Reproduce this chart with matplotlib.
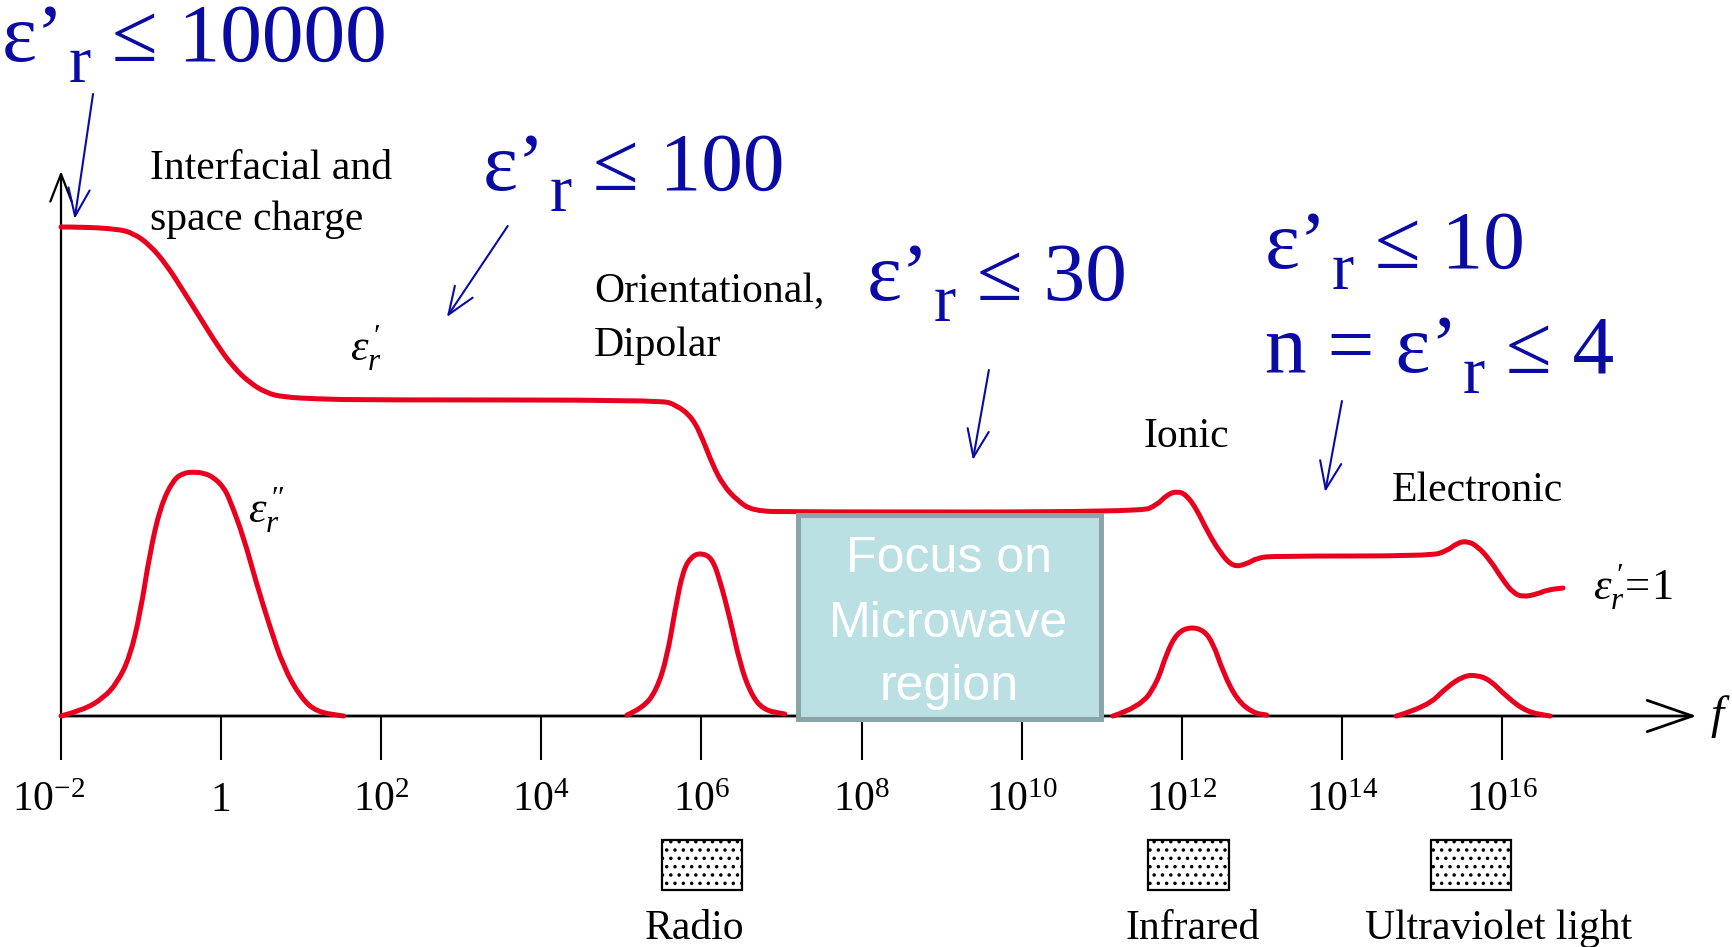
import matplotlib
matplotlib.use("Agg")
import matplotlib.pyplot as plt
from matplotlib.patches import Rectangle, PathPatch
from matplotlib.path import Path

plt.rcParams["mathtext.fontset"] = "custom"
plt.rcParams["mathtext.rm"] = "Liberation Serif"
plt.rcParams["mathtext.it"] = "Liberation Serif:italic"
plt.rcParams["mathtext.bf"] = "Liberation Serif:bold"
plt.rcParams["hatch.linewidth"] = 1.3

# ---- frequency axis (log10 f) ----
tick_logf = [-2, 0, 2, 4, 6, 8, 10, 12, 14, 16]
tick_labels = [r"$10^{-2}$", "1", r"$10^{2}$", r"$10^{4}$", r"$10^{6}$",
               r"$10^{8}$", r"$10^{10}$", r"$10^{12}$", r"$10^{14}$", r"$10^{16}$"]

# ---- real part of relative permittivity, eps'_r (schematic units) ----
eps_real_logf = [-2.0, -1.73, -1.30, -1.10, -0.89, -0.68, -0.48, -0.26, -0.05, 0.15,
                 0.36, 0.57, 0.77, 1.20, 1.82, 5.48, 5.69, 5.89, 6.02, 6.14,
                 6.27, 6.44, 6.64, 7.14, 11.48, 11.69, 11.81, 11.94, 12.06, 12.19,
                 12.31, 12.48, 12.64, 12.81, 12.94, 13.14, 15.10, 15.31, 15.44, 15.56,
                 15.69, 15.85, 16.01, 16.14, 16.26, 16.44, 16.56, 16.76]
eps_real_val = [4.89, 4.89, 4.87, 4.83, 4.71, 4.51, 4.26, 3.98, 3.71, 3.49,
                3.33, 3.23, 3.19, 3.17, 3.16, 3.16, 3.11, 2.98, 2.76, 2.51,
                2.31, 2.16, 2.05, 2.04, 2.04, 2.11, 2.21, 2.25, 2.21, 2.06,
                1.86, 1.63, 1.49, 1.52, 1.58, 1.60, 1.60, 1.65, 1.73, 1.75,
                1.70, 1.56, 1.36, 1.23, 1.19, 1.22, 1.26, 1.28]

# ---- loss peaks, eps''_r ----
loss_space_logf = [-2.0, -1.72, -1.47, -1.30, -1.14, -1.01, -0.89, -0.76, -0.60, -0.47,
                   -0.35, -0.22, -0.10, 0.03, 0.11, 0.28, 0.44, 0.61, 0.78, 0.99, 1.19, 1.53]
loss_space_val = [0.0, 0.06, 0.18, 0.33, 0.59, 1.03, 1.63, 2.09, 2.36, 2.43,
                  2.44, 2.43, 2.39, 2.29, 2.16, 1.79, 1.33, 0.89, 0.49, 0.19, 0.04, 0.0]

loss_dipolar_logf = [5.07, 5.27, 5.44, 5.57, 5.67, 5.77, 5.88, 6.00, 6.13, 6.23,
                     6.36, 6.48, 6.61, 6.77, 7.04]
loss_dipolar_val = [0.01, 0.08, 0.26, 0.59, 1.06, 1.46, 1.60, 1.63, 1.58, 1.36,
                    0.96, 0.53, 0.23, 0.06, 0.02]

loss_ionic_logf = [11.14, 11.48, 11.69, 11.81, 11.94, 12.10, 12.27, 12.39, 12.52, 12.69,
                   12.89, 13.06]
loss_ionic_val = [0.0, 0.09, 0.33, 0.63, 0.83, 0.89, 0.86, 0.73, 0.43, 0.16, 0.03, 0.01]

loss_electronic_logf = [14.68, 15.06, 15.31, 15.52, 15.68, 15.85, 16.06, 16.31, 16.60]
loss_electronic_val = [0.0, 0.09, 0.29, 0.40, 0.41, 0.36, 0.19, 0.04, 0.0]

# ---- spectral bands under the axis ----
band_names = ["Radio", "Infrared", "Ultraviolet light"]
band_left = [5.51, 11.58, 15.11]
band_right = [6.51, 12.59, 16.11]
band_label_x = [5.91, 12.13, 15.96]

RED = "#e8001e"
BLUE = "#0a0aa5"
SERIF = "Liberation Serif"

fig = plt.figure(figsize=(17.32, 9.47), dpi=100)
ax = fig.add_axes([0, 0, 1, 1])
ax.set_xlim(-2.762, 18.872)
ax.set_ylim(-2.31, 7.16)
ax.axis("off")

# axes with arrow heads
ax.annotate("", xy=(18.43, 0), xytext=(-2.0, 0),
            arrowprops=dict(arrowstyle="->,head_length=1.3,head_width=0.45",
                            lw=2, color="black", shrinkA=0, shrinkB=0,
                            mutation_scale=25), zorder=1)
ax.annotate("", xy=(-2.0, 5.45), xytext=(-2.0, 0),
            arrowprops=dict(arrowstyle="->,head_length=0.9,head_width=0.35",
                            lw=1.6, color="black", shrinkA=0, shrinkB=0,
                            mutation_scale=22), zorder=1)
ax.vlines(tick_logf, -0.44, 0, color="black", lw=1.5, zorder=1)
for t, lab in zip(tick_logf, tick_labels):
    tx = t if t != -2 else -2.16
    ax.text(tx, -0.85, lab, ha="center", va="center", fontsize=30,
            family=SERIF, color="black")
ax.text(18.72, 0.0, r"$f$", ha="center", va="center", fontsize=34, color="black")


def smooth_curve(xs, ys):
    """Quadratic Bezier through the midpoints, with the samples as control points."""
    verts = [(xs[0], ys[0])]
    codes = [Path.MOVETO]
    for i in range(1, len(xs) - 1):
        verts += [(xs[i], ys[i]), ((xs[i] + xs[i + 1]) / 2, (ys[i] + ys[i + 1]) / 2)]
        codes += [Path.CURVE3, Path.CURVE3]
    verts.append((xs[-1], ys[-1]))
    codes.append(Path.LINETO)
    return PathPatch(Path(verts, codes), facecolor="none", edgecolor=RED, lw=3.6,
                     capstyle="round", joinstyle="round", zorder=2)


for xs, ys in [(eps_real_logf, eps_real_val),
               (loss_space_logf, loss_space_val),
               (loss_dipolar_logf, loss_dipolar_val),
               (loss_ionic_logf, loss_ionic_val),
               (loss_electronic_logf, loss_electronic_val)]:
    ax.add_patch(smooth_curve(xs, ys))

# microwave window
ax.add_patch(Rectangle((7.20, -0.025), 10.99 - 7.20, 2.015 + 0.025,
                       facecolor="#bbe0e3", edgecolor="#8aa5a8", lw=3.6, zorder=3))
for y, s in [(1.44, "Focus on"), (0.79, "Microwave"), (0.16, "region")]:
    ax.text(9.09, y, s, ha="center", va="baseline", fontsize=36,
            family="Liberation Sans", color="white", zorder=4)

# spectral bands
for name, l, r, lx in zip(band_names, band_left, band_right, band_label_x):
    ax.add_patch(Rectangle((l, -1.74), r - l, 0.50, facecolor="white",
                           edgecolor="black", lw=1.6, hatch="..", zorder=2))
    ax.text(lx, -2.23, name, ha="center", va="baseline", fontsize=30,
            family=SERIF, color="black")

# mechanism labels
txt_kw = dict(fontsize=30, family=SERIF, color="black", va="baseline", ha="left")
ax.text(-0.89, 5.37, "Interfacial and", **txt_kw)
ax.text(-0.89, 4.86, "space charge", **txt_kw)
ax.text(4.66, 4.14, "Orientational,", **txt_kw)
ax.text(4.66, 3.60, "Dipolar", **txt_kw)
ax.text(11.52, 2.69, "Ionic", **txt_kw)
ax.text(14.62, 2.15, "Electronic", **txt_kw)
ax.text(1.81, 3.68, r"$\varepsilon_r^{\,\prime}$", fontsize=32, ha="center", va="center")
ax.text(0.57, 2.06, r"$\varepsilon_r^{\,\prime\prime}$", fontsize=32, ha="center", va="center")
ax.text(17.14, 1.29, r"$\varepsilon_r^{\,\prime}\!=\!1$", fontsize=32, ha="left", va="center")

# blue bounds on eps'_r


def bound(x, y, head, tail, size=60):
    kw = dict(family=SERIF, color=BLUE)
    t1 = ax.text(x, y, head, ha="left", va="baseline", fontsize=size, **kw)
    t2 = ax.annotate("r", xy=(1, 0), xycoords=t1, xytext=(3, -12),
                     textcoords="offset points", ha="left", va="bottom",
                     fontsize=size * 0.8, **kw)
    ax.annotate(tail, xy=(1, 0), xycoords=t2, xytext=(0, 12),
                textcoords="offset points", ha="left", va="bottom",
                fontsize=size, **kw)


bound(-2.74, 6.55, "ε’", " ≤ 10000")
bound(3.27, 5.26, "ε’", " ≤ 100")
bound(8.07, 4.16, "ε’", " ≤ 30")
bound(13.04, 4.48, "ε’", " ≤ 10")
bound(13.04, 3.44, "n = ε’", " ≤ 4")

arrow_kw = dict(arrowstyle="->,head_length=0.9,head_width=0.35", lw=1.5,
                color=BLUE, shrinkA=0, shrinkB=0, mutation_scale=22)
for (x0, y0), (x1, y1) in [((-1.60, 6.22), (-1.83, 4.97)),
                           ((3.58, 4.90), (2.82, 3.99)),
                           ((9.59, 3.46), (9.39, 2.56)),
                           ((14.00, 3.15), (13.79, 2.24))]:
    ax.annotate("", xy=(x1, y1), xytext=(x0, y0), arrowprops=arrow_kw)

fig.savefig("out.png", dpi=100, facecolor="white")
